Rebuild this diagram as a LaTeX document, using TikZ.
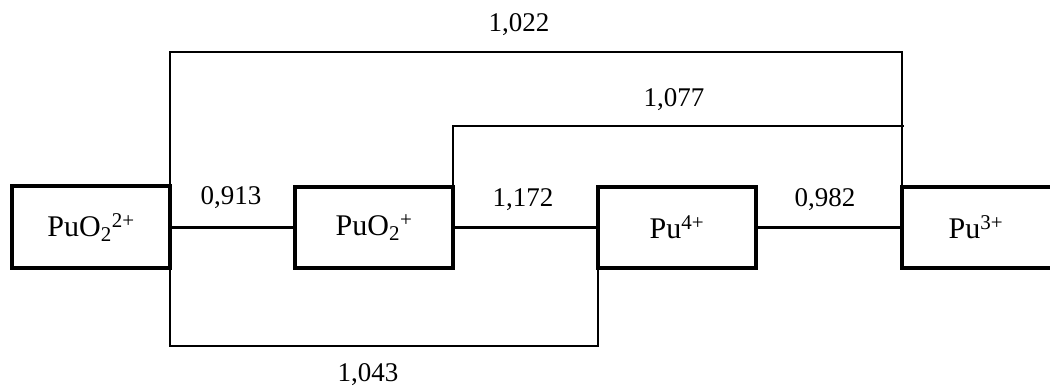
\documentclass[tikz,border=0pt]{standalone}
\usepackage{fontspec}
\setmainfont{Liberation Serif}
\begin{document}
\begin{tikzpicture}[x=1pt,y=-1pt,
  species/.style={draw,line width=4pt,minimum width=158pt,minimum height=81pt,inner sep=0pt,outer sep=0pt,
    font=\fontsize{30}{34}\selectfont},
  conn/.style={line width=2.6pt,line join=miter},
  val/.style={font=\fontsize{27}{32}\selectfont,inner sep=0pt}]
\clip (0,0) rectangle (1050,387);
\node[species,minimum height=82pt] (b1) at (91,227.5) {PuO\textsubscript{2}\textsuperscript{2+}};
\node[species] (b2) at (374,227.5) {PuO\textsubscript{2}\textsuperscript{+}};
\node[species] (b3) at (677,227.5) {Pu\textsuperscript{4+}};
\node[species,minimum width=170pt,anchor=west] (b4) at (902,227.5) {\hspace*{-22pt}Pu\textsuperscript{3+}};
\coordinate (top) at (0,52);
\coordinate (mid) at (0,126);
\coordinate (bot) at (0,346);
\coordinate (m2) at (904,126);
\draw[conn] (b1.east) -- (b2.west);
\draw[conn] (b2.east) -- (b3.west);
\draw[conn] (b3.east) -- (b4.west);
\draw[conn] (b1.north east) |- (b4.north west |- top) -- (b4.north west);
\draw[conn] (b2.north east) |- (m2);
\draw[conn] (b1.south east) |- (b3.south west |- bot) -- (b3.south west);
\node[val] (l1) at (519,25) {1,022};
\node[val] (l2) at (674,100) {1,077};
\node[val] (l3) at (231,198) {0,913};
\node[val] (l4) at (523,200) {1,172};
\node[val] (l5) at (825,200) {0,982};
\node[val] (l6) at (368,375) {1,043};
\end{tikzpicture}
\end{document}
